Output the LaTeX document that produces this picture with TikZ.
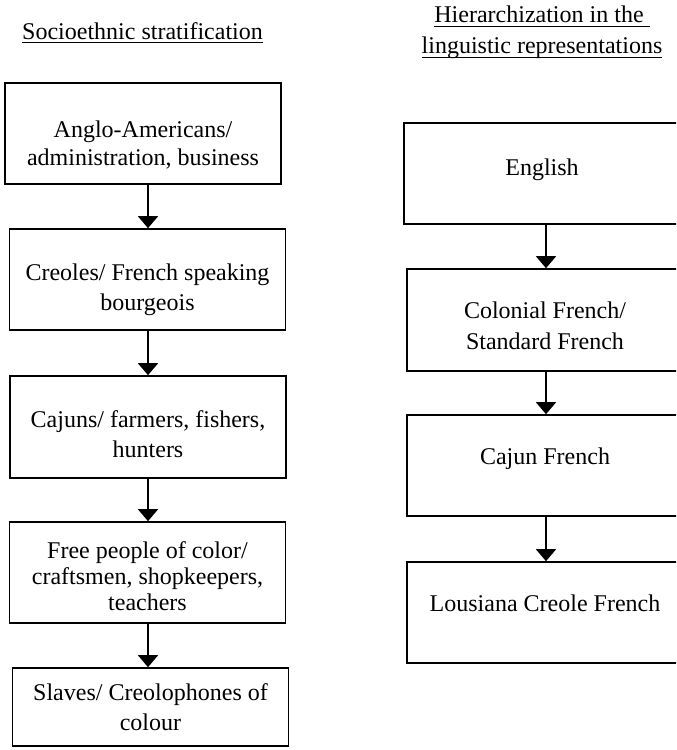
\documentclass[tikz,border=0pt]{standalone}
\usepackage{amsmath}
\usepackage{fontspec}
\setmainfont{Liberation Serif}
\usepackage{tikz}
\usetikzlibrary{arrows.meta, positioning, calc}

\newcommand{\headline}[1]{\underline{\smash[b]{#1}}}

\begin{document}
\begin{tikzpicture}[
  x=0.5pt, y=-0.5pt,
  box/.style={draw, line width=0.8pt, align=center, inner sep=0pt, minimum width=138pt, minimum height=50.5pt, font=\fontsize{12}{15}\selectfont},
  heading/.style={align=center, inner sep=0pt, font=\fontsize{12}{15.5}\selectfont},
  arrow/.style={-{Triangle[length=6pt, width=10pt]}, line width=0.8pt},
  textdown/.style={execute at begin node={\rule{0pt}{#1}}},
  textup/.style={execute at end node={\rule[-#1]{0pt}{#1}}}
]
\useasboundingbox (0,0) rectangle (676,750);
\clip (0,0) rectangle (676,750);
% headings
\node[heading, anchor=base] (ethnohead) at (142.5,39.3) {\headline{Socioethnic stratification}};
\node[heading] (linghead) at (542,32.2) {\headline{Hierarchization in the\ }\\\headline{linguistic representations}};
% left column
\node[box, font=\fontsize{12}{14}\selectfont, textdown=33.6pt] (anglo) at (143,133.5) {Anglo-Americans/\\administration, business};
\node[box, textdown=33.5pt] (creoles) at (147.5,279.5) {Creoles/ French speaking\\bourgeois};
\node[box, minimum height=51pt, textdown=30.5pt] (cajuns) at (148,427) {Cajuns/ farmers, fishers,\\hunters};
\node[box, font=\fontsize{12}{13}\selectfont, textdown=38.4pt] (freecol) at (147.5,572.5) {Free people of color/\\craftsmen, shopkeepers,\\teachers};
\node[box, minimum height=39pt] (slaves) at (150.5,707) {Slaves/ Creolophones of\\colour};
% right column
\node[box, textup=6.3pt] (english) at (542,173.5) {English};
\node[box, minimum height=51pt, font=\fontsize{12}{15.5}\selectfont, textdown=29.5pt] (colfr) at (545,320) {Colonial French/\\Standard French};
\node[box, textup=9.2pt] (cajfr) at (545,465.5) {Cajun French};
\node[box, textup=9.2pt] (lcf) at (545,612.5) {Lousiana Creole French};
\coordinate (leftaxis) at (148,0);
\coordinate (rightaxis) at (546,0);
\draw[arrow] (anglo.south -| leftaxis) -- (creoles.north -| leftaxis);
\draw[arrow] (creoles.south -| leftaxis) -- (cajuns.north -| leftaxis);
\draw[arrow] (cajuns.south -| leftaxis) -- (freecol.north -| leftaxis);
\draw[arrow] (freecol.south -| leftaxis) -- (slaves.north -| leftaxis);
\draw[arrow] (english.south -| rightaxis) -- (colfr.north -| rightaxis);
\draw[arrow] (colfr.south -| rightaxis) -- (cajfr.north -| rightaxis);
\draw[arrow] (cajfr.south -| rightaxis) -- (lcf.north -| rightaxis);
\end{tikzpicture}
\end{document}
